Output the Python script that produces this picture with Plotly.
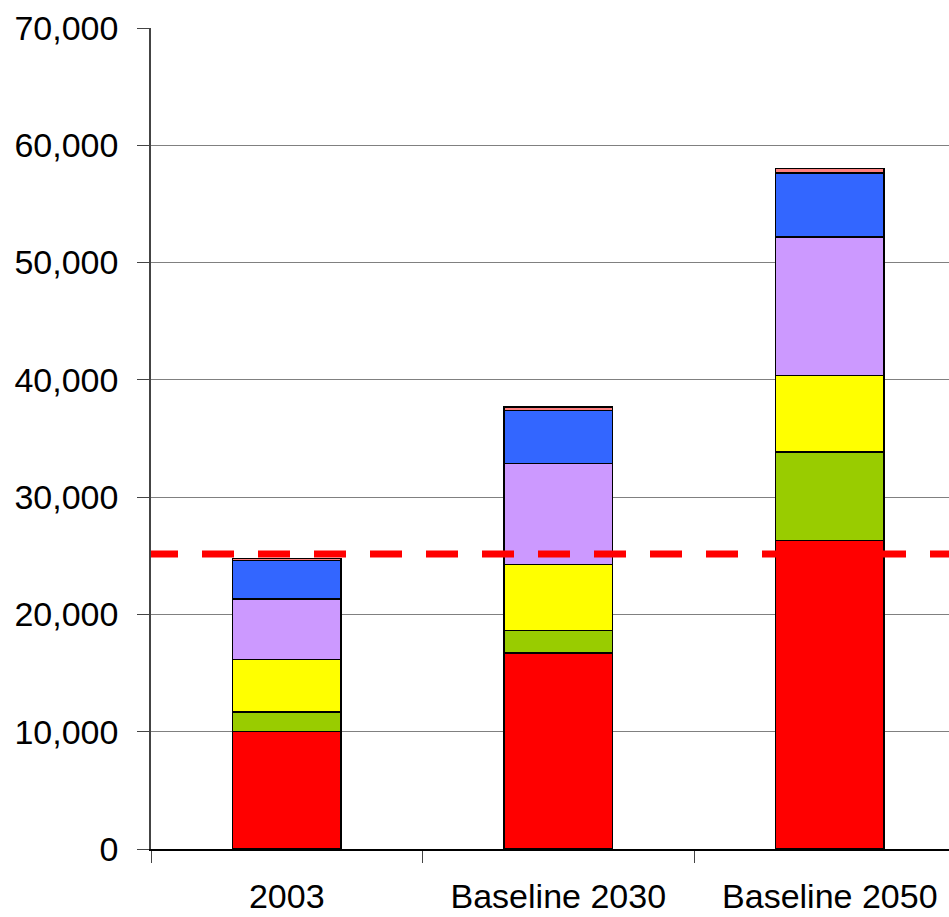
import plotly.graph_objects as go

categories = ["2003", "Baseline 2030", "Baseline 2050"]
series_names = ["Red", "Green", "Yellow", "Purple", "Blue", "Pink"]
red = [10000, 16720, 26290]
green = [1680, 1890, 7580]
yellow = [4460, 5630, 6510]
purple = [5170, 8640, 11800]
blue = [3270, 4490, 5460]
pink = [200, 310, 390]
threshold = 25150
y_ticks = [0, 10000, 20000, 30000, 40000, 50000, 60000, 70000]

colors = ["#FF0000", "#99CC00", "#FFFF00", "#CC99FF", "#3366FF", "#FF8080"]
values = [red, green, yellow, purple, blue, pink]

fig = go.Figure()
for name, vals, col in zip(series_names, values, colors):
    fig.add_trace(go.Bar(
        x=categories, y=vals, name=name,
        marker=dict(color=col, line=dict(color="black", width=1.5)),
        width=0.4,
    ))

dash_pattern = "27px,24px," + ",".join(["32px,24px"] * 20)
fig.add_shape(type="line", xref="paper", x0=0, x1=1, yref="y", y0=threshold, y1=threshold,
              line=dict(color="#FF0000", width=7, dash=dash_pattern), layer="above")

font = dict(family="Liberation Sans, Arial, sans-serif", size=34, color="black")

fig.update_layout(
    barmode="stack",
    width=949, height=917,
    margin=dict(l=151, r=0, t=28, b=68, autoexpand=False),
    paper_bgcolor="white", plot_bgcolor="white",
    showlegend=False,
    font=font,
    xaxis=dict(
        range=[-0.5, 2.439], automargin=False,
        tickson="boundaries", ticks="outside", ticklen=12, tickcolor="#444",
        showline=True, linecolor="black", linewidth=1.5,
        showgrid=False, tickfont=font, ticklabelstandoff=16,
    ),
    yaxis=dict(
        range=[0, 70000], tickvals=y_ticks, tickformat=",d", automargin=False,
        ticks="outside", ticklen=12, tickcolor="#444",
        showline=True, linecolor="#444", linewidth=1.5,
        showgrid=True, gridcolor="#808080", gridwidth=1,
        zeroline=False, tickfont=font, ticklabelstandoff=12,
    ),
)

fig.write_html("out.html")
